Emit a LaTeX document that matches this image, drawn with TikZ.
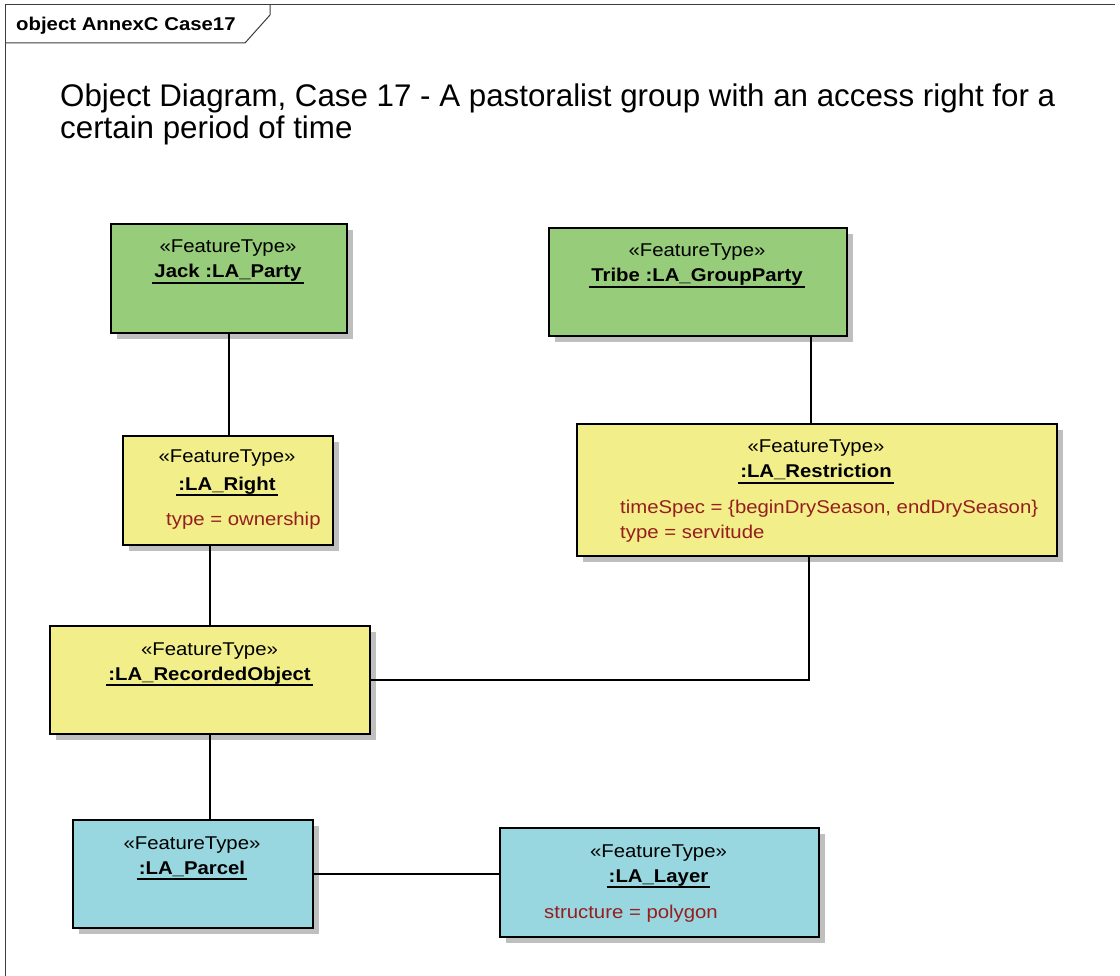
\documentclass[tikz,border=0pt]{standalone}
\usepackage{fontspec}
\setmainfont{Liberation Sans}
\newfontfamily\boxfont[FakeStretch=1.1]{Liberation Sans}
\usetikzlibrary{shadows}

\definecolor{partygreen}{RGB}{151,204,122}
\definecolor{rightyellow}{RGB}{242,239,138}
\definecolor{spatialcyan}{RGB}{152,214,224}
\definecolor{attrred}{RGB}{150,30,30}
\definecolor{framegray}{RGB}{60,60,60}

\tikzset{
  objbox/.style={draw=black, line width=1.6pt, inner sep=0pt, anchor=north west,
    general shadow={shadow xshift=6pt, shadow yshift=-6pt, fill=black!25}},
  stereo/.style={anchor=base, inner sep=0pt, font=\boxfont\fontsize{18.5}{22}\selectfont},
  objname/.style={anchor=base, inner xsep=2pt, inner ysep=0pt,
    font=\boxfont\bfseries\fontsize{18.5}{22}\selectfont},
  attr/.style={anchor=base west, inner sep=0pt, text=attrred,
    font=\boxfont\fontsize{18.5}{22}\selectfont},
  link/.style={draw=black, line width=1.6pt},
  uline/.style={draw=black, line width=1.3pt},
}

\begin{document}
\begin{tikzpicture}[x=1pt, y=-1pt]
  \useasboundingbox[fill=white] (0,0) rectangle (1120,976);

  % diagram frame and its name tab
  \draw[framegray, line width=1pt] (1115,5) -- (5,5) -- (5,976);
  \draw[framegray, line width=1pt] (5,43) -- (245,43) -- (270,15) -- (270,5);
  \node[anchor=base west, inner sep=0pt, font=\boxfont\bfseries\fontsize{18.5}{22}\selectfont]
    (tab) at (16,31) {object AnnexC Case17};

  % heading
  \node[anchor=base west, inner sep=0pt, font=\fontsize{31.3}{32}\selectfont]
    (title1) at (60,107) {Object Diagram, Case 17 - A pastoralist group with an access right for a};
  \node[anchor=base west, inner sep=0pt, font=\fontsize{31.3}{32}\selectfont]
    (title2) at (60,139) {certain period of time};

  % object boxes
  \node[objbox, fill=partygreen, minimum width=236pt, minimum height=109pt] (jack) at (110,223) {};
  \node[objbox, fill=partygreen, minimum width=298pt, minimum height=108pt] (tribe) at (548,227) {};
  \node[objbox, fill=rightyellow, minimum width=210pt, minimum height=109pt] (right) at (122,435) {};
  \node[objbox, fill=rightyellow, minimum width=480pt, minimum height=132pt] (restr) at (576,423) {};
  \node[objbox, fill=rightyellow, minimum width=320pt, minimum height=108pt] (rec) at (49,625) {};
  \node[objbox, fill=spatialcyan, minimum width=240pt, minimum height=108pt] (parcel) at (72,819) {};
  \node[objbox, fill=spatialcyan, minimum width=319pt, minimum height=109pt] (layer) at (499,827) {};

  % box texts
  \node[stereo] (jackS) at (228,253) {«FeatureType»};
  \node[objname] (jackN) at (228,278) {Jack :LA\_Party};
  \node[stereo] (tribeS) at (697,257) {«FeatureType»};
  \node[objname] (tribeN) at (697,282) {Tribe :LA\_GroupParty};
  \node[stereo] (rightS) at (227,463) {«FeatureType»};
  \node[objname] (rightN) at (227,490) {:LA\_Right};
  \node[attr] (rightA) at (166,525) {type = ownership};
  \node[stereo] (restrS) at (816,453) {«FeatureType»};
  \node[objname] (restrN) at (816,478) {:LA\_Restriction};
  \node[attr] (restrA) at (620,513) {timeSpec = \{beginDrySeason, endDrySeason\}};
  \node[attr] (restrB) at (620,538) {type = servitude};
  \node[stereo] (recS) at (209.5,655) {«FeatureType»};
  \node[objname] (recN) at (209.5,680) {:LA\_RecordedObject};
  \node[stereo] (parcelS) at (192,849) {«FeatureType»};
  \node[objname] (parcelN) at (192,874) {:LA\_Parcel};
  \node[stereo] (layerS) at (658.5,857) {«FeatureType»};
  \node[objname] (layerN) at (658.5,882) {:LA\_Layer};
  \node[attr] (layerA) at (544,918) {structure = polygon};

  % underlined object names
  \foreach \n in {jackN,tribeN,rightN,restrN,recN,parcelN,layerN}
    \draw[uline] ([yshift=-5pt]\n.base west) -- ([yshift=-5pt]\n.base east);

  % links
  \draw[link] (jack.south) -- (jack.south |- right.north);
  \draw[link] ([xshift=113pt]tribe.south) -- ([xshift=113pt]tribe.south |- restr.north);
  \draw[link] (rec.north) -- (rec.north |- right.south);
  \draw[link] (rec.east) -| ([xshift=-8pt]restr.south);
  \draw[link] (rec.south) -- (rec.south |- parcel.north);
  \draw[link] (parcel.east) -- (parcel.east -| layer.west);
\end{tikzpicture}
\end{document}
